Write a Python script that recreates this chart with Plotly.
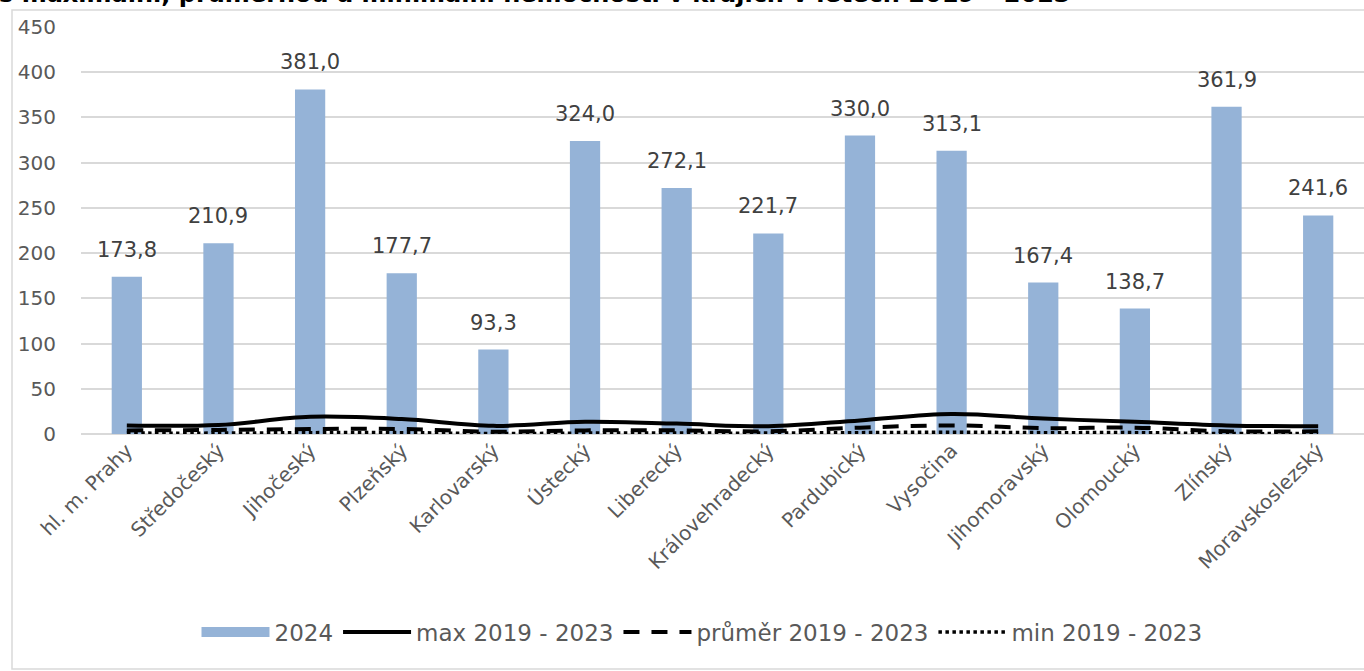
import plotly.graph_objects as go

categories = ["hl. m. Prahy", "Středočeský", "Jihočeský", "Plzeňský", "Karlovarský", "Ústecký",
              "Liberecký", "Královehradecký", "Pardubický", "Vysočina", "Jihomoravský",
              "Olomoucký", "Zlínský", "Moravskoslezský"]
values_2024 = [173.8, 210.9, 381.0, 177.7, 93.3, 324.0, 272.1, 221.7, 330.0, 313.1, 167.4, 138.7, 361.9, 241.6]
max_1923 = [9.5, 10.0, 19.0, 16.5, 9.0, 13.5, 11.5, 8.5, 15.0, 22.0, 17.0, 13.5, 9.5, 8.5]
avg_1923 = [4.0, 4.5, 5.5, 5.5, 2.5, 4.0, 4.0, 3.0, 7.0, 9.5, 6.5, 7.0, 3.0, 3.0]
min_1923 = [1.0, 1.0, 1.5, 1.5, 0.5, 1.0, 1.0, 1.0, 1.5, 2.0, 1.5, 1.5, 0.5, 0.5]
title_text = "s maximální, průměrnou a minimální nemocností v krajích v letech 2019 – 2023"

FONT = "DejaVu Sans"
GREY = "#595959"
BAR = "#95b3d7"

W, H = 1364, 671
ML, MR, MT, MB = 81, 0, 27, 237
PH = H - MT - MB
PW = W - ML - MR


def py(pix):
    """page pixel y -> paper y"""
    return 1 - (pix - MT) / PH


def px(pix):
    return (pix - ML) / PW


fig = go.Figure()
fig.add_trace(go.Bar(x=categories, y=values_2024, name="2024", marker_color=BAR,
                     marker_line_width=0, showlegend=False, legendgroup="b"))
# legend swatch for bars (wide rectangle like the reference)
fig.add_trace(go.Scatter(x=[None], y=[None], name="2024", mode="lines", legendgroup="b",
                         line=dict(color=BAR, width=20)))
fig.add_trace(go.Scatter(x=categories, y=max_1923, name="max 2019 - 2023", mode="lines",
                         line=dict(color="black", width=4, shape="spline")))
fig.add_trace(go.Scatter(x=categories, y=avg_1923, name="průměr 2019 - 2023", mode="lines",
                         line=dict(color="black", width=4, dash="16px,12px", shape="spline")))
fig.add_trace(go.Scatter(x=categories, y=min_1923, name="min 2019 - 2023", mode="lines",
                         line=dict(color="black", width=3.5, dash="dot", shape="spline")))

for c, v in zip(categories, values_2024):
    fig.add_annotation(x=c, y=v, text=f"{v:.1f}".replace(".", ","), showarrow=False,
                       yanchor="middle", yshift=27,
                       font=dict(family=FONT, size=21, color="#404040"))

# title (cut off at the top, as in the reference)
fig.add_annotation(xref="paper", yref="paper", x=px(-3), y=py(10),
                   xanchor="left", yanchor="bottom", text="<b>" + title_text + "</b>",
                   showarrow=False, font=dict(family=FONT, size=24, color="black"))

# chart border
fig.add_shape(type="rect", xref="paper", yref="paper",
              x0=px(12), x1=px(1380), y0=py(669), y1=py(10),
              line=dict(color="#d9d9d9", width=1.5), fillcolor="rgba(0,0,0,0)", layer="below")

fig.update_layout(
    width=W, height=H,
    margin=dict(l=ML, r=MR, t=MT, b=MB, autoexpand=False),
    paper_bgcolor="white", plot_bgcolor="white",
    bargap=0.67,
    font=dict(family=FONT, color=GREY),
    showlegend=True,
    legend=dict(orientation="h", x=px(702), xanchor="center", y=py(632),
                yanchor="middle", font=dict(family=FONT, size=23, color=GREY),
                itemwidth=68, traceorder="normal"),
    xaxis=dict(tickangle=-45, tickfont=dict(family=FONT, size=20, color=GREY),
               showline=False, showgrid=False, ticks="", automargin=False),
    yaxis=dict(range=[0, 450], dtick=50, tickfont=dict(family=FONT, size=20, color=GREY),
               showgrid=True, gridcolor="#d9d9d9", gridwidth=1.5, zeroline=True,
               zerolinecolor="#d9d9d9", zerolinewidth=1.5, ticklabelstandoff=24,
               automargin=False),
)

fig.write_html("out.html", config={"displayModeBar": False},
               post_script="document.body.style.margin='0';document.body.style.overflow='hidden';")
